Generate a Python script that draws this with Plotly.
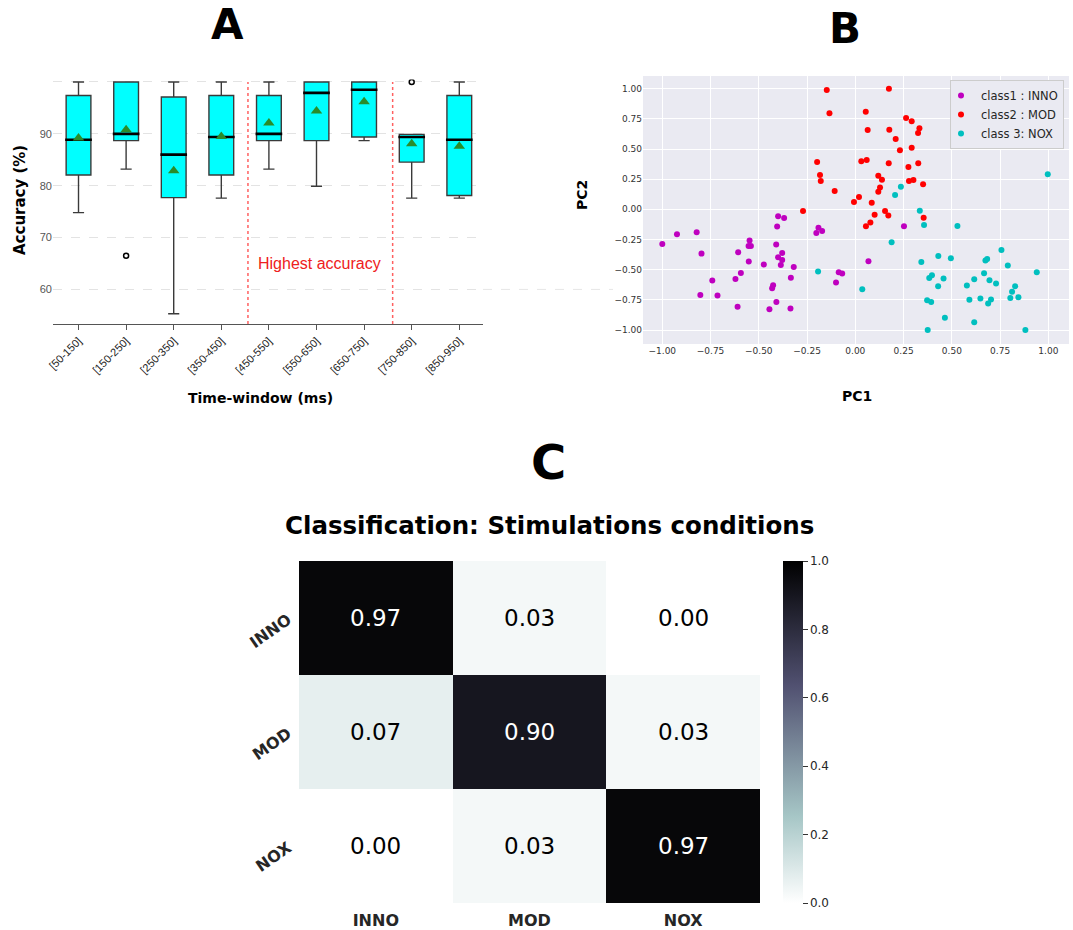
import plotly.graph_objects as go

W, H = 1073, 930


def px(x):
    return x / W


def py(y):
    return 1 - y / H


# ---------------- Panel A data ----------------
windows = ['[50-150]', '[150-250]', '[250-350]', '[350-450]', '[450-550]',
           '[550-650]', '[650-750]', '[750-850]', '[850-950]']
acc_q1 = [82.05, 88.7, 77.7, 82.05, 88.7, 88.7, 89.4, 84.55, 78.1]
acc_median = [88.85, 90.0, 86.0, 89.4, 90.0, 97.9, 98.5, 89.4, 88.85]
acc_q3 = [97.4, 100.0, 97.1, 97.4, 97.4, 100.0, 100.0, 89.9, 97.4]
acc_low = [74.8, 83.2, 55.3, 77.6, 83.2, 79.9, 88.7, 77.6, 77.6]
acc_high = [100.0, 100.0, 100.0, 100.0, 100.0, 100.0, 100.0, 89.9, 100.0]
acc_mean = [89.2, 90.8, 82.9, 89.5, 92.1, 94.4, 96.2, 88.1, 87.6]
outlier_window = [1, 7]
outlier_value = [66.5, 100.0]
highlight_bounds = [3.56, 6.6]

# ---------------- Panel B data ----------------
inno_pc1 = [-1.0, -0.924, -0.822, -0.797, -0.803, -0.741, -0.714, -0.607, -0.621, -0.593,
            -0.610, -0.548, -0.553, -0.541, -0.552, -0.474, -0.400, -0.369, -0.405, -0.410,
            -0.379, -0.400, -0.379, -0.386, -0.319, -0.334, -0.426, -0.431, -0.409, -0.445,
            -0.336, -0.202, -0.191, -0.172, -0.086, -0.068, -0.100, 0.252, 0.068]
inno_pc2 = [-0.287, -0.207, -0.190, -0.367, -0.709, -0.590, -0.714, -0.356, -0.577, -0.527,
            -0.808, -0.259, -0.303, -0.303, -0.433, -0.458, -0.058, -0.072, -0.143, -0.292,
            -0.361, -0.397, -0.419, -0.461, -0.477, -0.568, -0.629, -0.654, -0.767, -0.828,
            -0.822, -0.196, -0.152, -0.179, -0.521, -0.532, -0.607, -0.141, -0.430]
mod_pc1 = [-0.148, -0.134, -0.198, -0.183, -0.179, -0.107, -0.271, 0.174, 0.054, 0.263,
           0.292, 0.332, 0.325, 0.064, 0.176, 0.209, 0.231, 0.292, 0.031, 0.059,
           0.173, 0.275, 0.326, 0.119, 0.138, 0.278, 0.301, 0.351, 0.128, 0.119,
           0.019, -0.007, 0.085, 0.100, 0.154, 0.171, 0.354, 0.078, 0.055, 0.760]
mod_pc2 = [0.988, 0.797, 0.392, 0.284, 0.234, 0.152, -0.014, 1.0, 0.809, 0.757,
           0.729, 0.671, 0.633, 0.657, 0.660, 0.583, 0.489, 0.511, 0.398, 0.409,
           0.381, 0.351, 0.381, 0.279, 0.246, 0.235, 0.243, 0.207, 0.182, 0.146,
           0.102, 0.061, 0.055, -0.044, -0.014, -0.052, -0.069, -0.110, -0.141, 0.560]
nox_pc1 = [-0.193, 0.036, 0.236, 0.206, 0.334, 0.356, 0.188, 0.997, 0.529, 0.757,
           0.430, 0.495, 0.342, 0.674, 0.683, 0.790, 0.940, 0.667, 0.616, 0.695,
           0.729, 0.383, 0.397, 0.457, 0.578, 0.429, 0.828, 0.812, 0.803, 0.845,
           0.372, 0.393, 0.591, 0.648, 0.703, 0.688, 0.464, 0.616, 0.375, 0.881]
nox_pc2 = [-0.515, -0.662, 0.188, 0.119, -0.011, -0.130, -0.273, 0.290, -0.138, -0.337,
           -0.387, -0.406, -0.436, -0.425, -0.411, -0.466, -0.521, -0.530, -0.579, -0.588,
           -0.615, -0.569, -0.547, -0.574, -0.632, -0.637, -0.637, -0.684, -0.734, -0.728,
           -0.754, -0.768, -0.750, -0.739, -0.748, -0.781, -0.899, -0.935, -1.0, -0.999]

# ---------------- Panel C data ----------------
classes = ['INNO', 'MOD', 'NOX']
conf = [[0.97, 0.03, 0.00],
        [0.07, 0.90, 0.03],
        [0.00, 0.03, 0.97]]

fig = go.Figure()

# ---- Panel A ----
xi = list(range(len(windows)))
fig.add_trace(go.Box(
    x=xi, q1=acc_q1, median=acc_median, q3=acc_q3,
    lowerfence=acc_low, upperfence=acc_high,
    width=0.52, whiskerwidth=0.45, fillcolor='#00ffff',
    line=dict(color='#3a3a3a', width=1.4), boxpoints=False,
    xaxis='x', yaxis='y', showlegend=False, hoverinfo='skip'))
mx, my = [], []
for i, m in zip(xi, acc_median):
    mx += [i - 0.28, i + 0.28, None]
    my += [m, m, None]
fig.add_trace(go.Scatter(x=mx, y=my, mode='lines', line=dict(color='black', width=2.6),
                         xaxis='x', yaxis='y', showlegend=False, hoverinfo='skip'))
fig.add_trace(go.Scatter(x=xi, y=acc_mean, mode='markers',
                         marker=dict(symbol='triangle-up', size=10, color='#2a8c2a'),
                         xaxis='x', yaxis='y', showlegend=False, hoverinfo='skip'))
fig.add_trace(go.Scatter(x=outlier_window, y=outlier_value, mode='markers',
                         marker=dict(symbol='circle-open', size=5, color='black',
                                     line=dict(width=1.5, color='black')),
                         xaxis='x', yaxis='y', showlegend=False, hoverinfo='skip'))

# ---- Panel B ----
for nm, xs, ys, col in [('class1 : INNO', inno_pc1, inno_pc2, '#bf00bf'),
                        ('class2 : MOD', mod_pc1, mod_pc2, '#ff0000'),
                        ('class 3: NOX', nox_pc1, nox_pc2, '#00bfbf')]:
    fig.add_trace(go.Scatter(x=xs, y=ys, mode='markers', name=nm,
                             marker=dict(size=6, color=col),
                             xaxis='x2', yaxis='y2', legend='legend'))

# ---- Panel C ----
bone_r = [[0.0, 'rgb(255,255,255)'],
          [0.253968, 'rgb(166,198,198)'],
          [0.634921, 'rgb(81,81,113)'],
          [1.0, 'rgb(0,0,0)']]
fig.add_trace(go.Heatmap(
    z=conf, x=classes, y=classes, zmin=0, zmax=1, colorscale=bone_r,
    xaxis='x3', yaxis='y3', showscale=True, hoverinfo='skip',
    colorbar=dict(thickness=20, len=342, lenmode='pixels', x=px(783), xanchor='left',
                  xpad=0, ypad=0, y=py(903), yanchor='bottom', outlinewidth=0,
                  ticks='outside', ticklen=5, tickcolor='#333333',
                  tickvals=[0, 0.2, 0.4, 0.6, 0.8, 1.0], tickformat='.1f',
                  tickfont=dict(family='DejaVu Sans', size=12, color='#262626'))))

annotations = []
for r, row in enumerate(conf):
    for c, v in enumerate(row):
        annotations.append(dict(x=classes[c], y=classes[r], xref='x3', yref='y3',
                                text=f'{v:.2f}', showarrow=False,
                                font=dict(family='DejaVu Sans', size=23,
                                          color='white' if v > 0.5 else 'black')))

bold = dict(family='DejaVu Sans', color='black')
annotations += [
    dict(x=px(227), y=py(25), text='<b>A</b>', font=dict(size=42, **bold)),
    dict(x=px(845), y=py(28), text='<b>B</b>', font=dict(size=42, **bold)),
    dict(x=px(548), y=py(462), text='<b>C</b>', font=dict(size=48, **bold)),
    dict(x=px(549), y=py(525), text='<b>Classification: Stimulations conditions</b>',
         font=dict(size=24.5, **bold)),
    dict(x=px(20), y=py(200), text='<b>Accuracy (%)</b>', textangle=-90, font=dict(size=15, **bold)),
    dict(x=px(260), y=py(398), text='<b>Time-window (ms)</b>', font=dict(size=14, **bold)),
    dict(x=px(857), y=py(396), text='<b>PC1</b>', font=dict(size=14, **bold)),
    dict(x=px(582), y=py(195), text='<b>PC2</b>', textangle=-90, font=dict(size=14, **bold)),
]
for a in annotations[-8:]:
    a.update(xref='paper', yref='paper', showarrow=False, xanchor='center', yanchor='middle')
annotations.append(dict(x=5.07, y=65, xref='x', yref='y', text='Highest accuracy',
                        showarrow=False,
                        font=dict(family='Liberation Sans', size=16, color='#ee2020')))

shapes = []
for b in highlight_bounds:
    shapes.append(dict(type='line', xref='x', yref='y', x0=b, x1=b, y0=53.33, y1=100,
                       line=dict(color='#ff6060', width=1.5, dash='dot')))
shapes.append(dict(type='line', xref='paper', yref='y', x0=px(483), x1=px(613), y0=60, y1=60,
                   line=dict(color='#e6e6e6', width=1, dash='dash')))

fig.update_layout(
    width=W, height=H, margin=dict(l=0, r=0, t=0, b=0, autoexpand=False),
    paper_bgcolor='white', plot_bgcolor='white',
    annotations=annotations, shapes=shapes,
    xaxis=dict(domain=[px(53), px(483)], range=[-0.536, 8.498], tickmode='array',
               tickvals=xi, ticktext=windows, tickangle=-45, ticks='outside', ticklen=5,
               tickcolor='#555555', showline=True, linecolor='#555555', linewidth=1.3,
               showgrid=False, zeroline=False, automargin=False,
               tickfont=dict(family='Liberation Sans', size=11, color='#222222'),
               anchor='y'),
    yaxis=dict(domain=[py(324), py(79.4)], range=[53.33, 100.5], tickmode='array',
               tickvals=[60, 70, 80, 90, 100], ticktext=['60', '70', '80', '90', ''],
               showgrid=True, gridcolor='#e3e3e3', griddash='dash', gridwidth=1,
               zeroline=False, showline=False, ticks='', automargin=False,
               tickfont=dict(family='Liberation Sans', size=11, color='#555555'),
               anchor='x'),
    xaxis2=dict(domain=[px(643), px(1069)], range=[-1.1, 1.107], anchor='y2',
                tickvals=[-1, -0.75, -0.5, -0.25, 0, 0.25, 0.5, 0.75, 1.0], tickformat='.2f',
                showgrid=True, gridcolor='white', gridwidth=1, zeroline=False, showline=False,
                ticks='', automargin=False,
                tickfont=dict(family='DejaVu Sans', size=9, color='#333333')),
    yaxis2=dict(domain=[py(344), py(76)], range=[-1.116, 1.105], anchor='x2',
                tickvals=[-1, -0.75, -0.5, -0.25, 0, 0.25, 0.5, 0.75, 1.0], tickformat='.2f',
                showgrid=True, gridcolor='white', gridwidth=1, zeroline=False, showline=False,
                ticks='', automargin=False,
                tickfont=dict(family='DejaVu Sans', size=9, color='#333333')),
    xaxis3=dict(domain=[px(299), px(760)], anchor='y3', showgrid=False, zeroline=False,
                showline=False, ticks='', ticklabelstandoff=6, automargin=False,
                tickfont=dict(family='DejaVu Sans', size=16, color='#262626', weight='bold')),
    yaxis3=dict(domain=[py(903), py(561)], anchor='x3', autorange='reversed', showgrid=False,
                zeroline=False, showline=False, ticks='', tickangle=-35, ticklabelstandoff=10,
                automargin=False,
                tickfont=dict(family='DejaVu Sans', size=16, color='#262626', weight='bold')),
    legend=dict(x=px(1064), xanchor='right', y=py(80), yanchor='top',
                bgcolor='#eaeaf2', bordercolor='#cccccc', borderwidth=1,
                font=dict(family='DejaVu Sans', size=11.5, color='#262626'),
                itemwidth=30, tracegroupgap=0, indentation=-10),
)

# darkgrid background for panel B
fig.add_shape(type='rect', xref='x2 domain', yref='y2 domain', x0=0, x1=1, y0=0, y1=1,
              fillcolor='#eaeaf2', line=dict(width=0), layer='below')

fig.write_html('out.html')
